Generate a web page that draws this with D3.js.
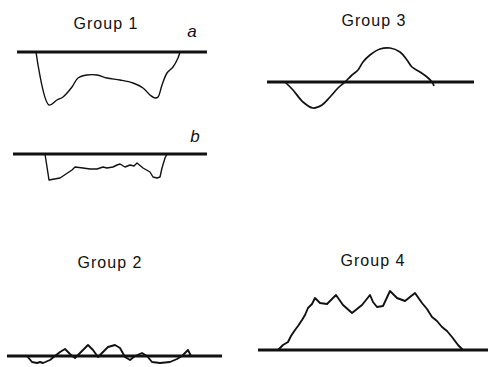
<!DOCTYPE html>
<html>
<head>
<meta charset="utf-8">
<script src="https://cdn.jsdelivr.net/npm/d3@7"></script>
<style>
  html, body { margin: 0; padding: 0; background: #fff; }
  svg { display: block; }
  .title { font-family: "Liberation Sans", Arial, sans-serif; font-size: 16px; letter-spacing: 1px; fill: #111; }
  .tag { font-family: "Liberation Sans", Arial, sans-serif; font-size: 17px; font-style: italic; fill: #111; }
</style>
</head>
<body>
<svg id="chart" width="489" height="367"></svg>
<script>
// Traces: x = time along the record, y = deflection from the resting baseline (up positive)
const group1aX = [19, 32, 40, 46, 55, 61, 70, 80, 90, 103, 116, 126, 133, 138, 141, 145, 150, 156, 161, 163];
const group1aY = [0, -53, -48, -45, -35, -26, -23, -23, -26, -28, -31, -36, -43, -46, -45, -33, -21, -15, -6, 0];

const group1bX = [32, 36, 47, 59, 62, 70, 77, 84, 90, 94, 100, 104, 107, 112, 117, 121, 124, 130, 137, 140, 144, 147, 149, 152, 154];
const group1bY = [0, -26, -24, -16, -13, -14, -15, -15, -13, -14, -13, -11, -10, -13, -11, -12, -9, -14, -18, -23, -24, -23, -14, -4, 0];

const group3X = [18, 26, 36, 46, 55, 63, 71, 78, 85, 91, 96, 103, 113, 123, 133, 140, 145, 153, 160, 165, 167];
const group3Y = [0, -8, -20, -26, -23, -15, -6, 0, 7, 12, 20, 27, 33, 34, 30, 22, 15, 10, 5, 0, -4];

const group2X = [20, 25, 30, 33, 36, 43, 48, 53, 58, 63, 68, 75, 81, 86, 91, 96, 101, 108, 113, 118, 123, 128, 135, 140, 145, 153, 163, 170, 175, 178, 181, 184];
const group2Y = [0, -6, -7, -6, -7, -4, 0, 4, 7, 2, -2, 5, 11, 6, -1, 4, 9, 11, 8, -1, -4, 0, 3, 0, -6, -7, -6, -3, 0, 3, 6, 0];

const group4X = [20, 25, 30, 33, 37, 40, 44, 47, 50, 54, 57, 62, 69, 78, 85, 94, 104, 112, 115, 119, 125, 132, 139, 147, 157, 164, 169, 174, 179, 184, 189, 194, 200, 205];
const group4Y = [0, 5, 8, 14, 20, 24, 30, 35, 42, 46, 52, 47, 46, 55, 45, 37, 45, 55, 48, 43, 44, 59, 52, 49, 57, 47, 41, 33, 29, 23, 19, 13, 5, 0];

const titles = ["Group 1", "Group 3", "Group 2", "Group 4"];
const tags = ["a", "b"];

// Panel geometry: baseline extent and level, title placement, trace style
const panels = [
  { xs: group1aX, ys: group1aY, x0: 17, x1: 207, base: 52, span: 190, width: 1.4, smooth: true, title: titles[0], tx: 106, ty: 29, tag: tags[0], tagx: 192, tagy: 37 },
  { xs: group1bX, ys: group1bY, x0: 13, x1: 207, base: 154, span: 194, width: 1.4, smooth: false, tag: tags[1], tagx: 195, tagy: 142 },
  { xs: group3X, ys: group3Y, x0: 267, x1: 474, base: 82, span: 207, width: 1.7, smooth: true, title: titles[1], tx: 374, ty: 26 },
  { xs: group2X, ys: group2Y, x0: 7, x1: 222, base: 356, span: 215, width: 1.9, smooth: false, title: titles[2], tx: 110, ty: 268 },
  { xs: group4X, ys: group4Y, x0: 258, x1: 488, base: 350, span: 230, width: 1.9, smooth: false, title: titles[3], tx: 373, ty: 266 }
];

const svg = d3.select("#chart");
svg.append("rect").attr("width", 489).attr("height", 367).attr("fill", "#fff");

panels.forEach(p => {
  const x = d3.scaleLinear().domain([0, p.span]).range([p.x0, p.x1]);
  const y = d3.scaleLinear().domain([-60, 60]).range([p.base + 60, p.base - 60]);
  const g = svg.append("g");

  // resting baseline
  g.append("line")
    .attr("x1", x(0)).attr("x2", x(p.span))
    .attr("y1", y(0)).attr("y2", y(0))
    .attr("stroke", "#111").attr("stroke-width", 3);

  const pts = p.xs.map((v, i) => [v, p.ys[i]]);
  const line = d3.line().x(d => x(d[0])).y(d => y(d[1]))
    .curve(p.smooth ? d3.curveCatmullRom.alpha(0.5) : d3.curveLinear);
  g.append("path")
    .attr("d", line(pts))
    .attr("fill", "none")
    .attr("stroke", "#111")
    .attr("stroke-width", p.width)
    .attr("stroke-linejoin", "round");

  if (p.title) {
    g.append("text").attr("class", "title")
      .attr("x", p.tx).attr("y", p.ty)
      .attr("text-anchor", "middle")
      .text(p.title);
  }
  if (p.tag) {
    g.append("text").attr("class", "tag")
      .attr("x", p.tagx).attr("y", p.tagy)
      .attr("text-anchor", "middle")
      .text(p.tag);
  }
});
</script>
</body>
</html>
